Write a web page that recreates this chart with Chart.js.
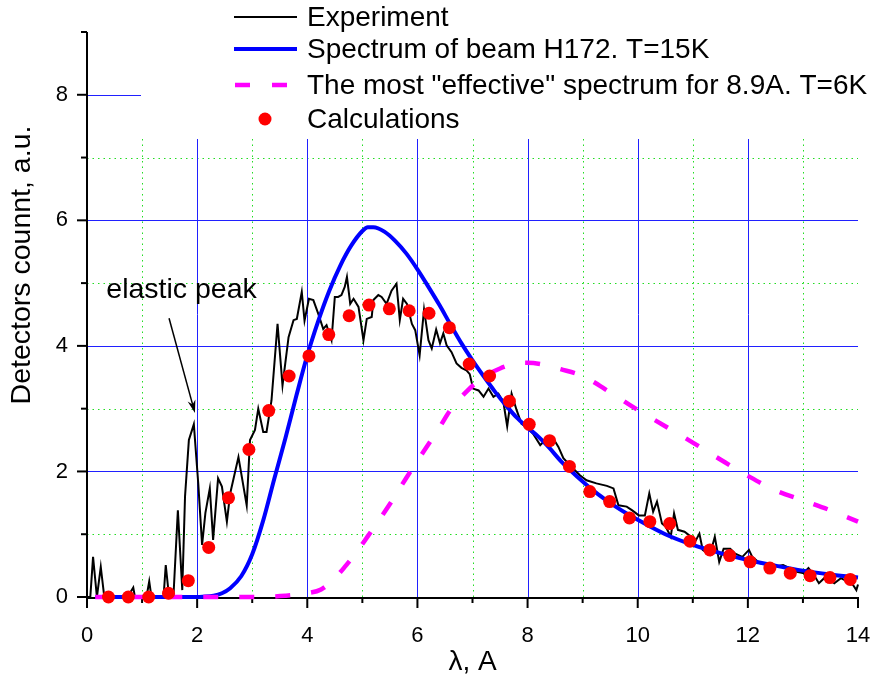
<!DOCTYPE html>
<html>
<head>
<meta charset="utf-8">
<script src="https://cdn.jsdelivr.net/npm/chart.js@4.4.1/dist/chart.umd.min.js"></script>
<style>
  html, body { margin: 0; padding: 0; background: #fff; }
  #wrap { width: 871px; height: 686px; }
</style>
</head>
<body>
<div id="wrap"><canvas id="spectrum" width="871" height="686"></canvas></div>
<script>
// Experiment (noisy detector counts)
const expX = [0, 0.06, 0.11, 0.18, 0.25, 0.31, 0.45, 0.6, 0.75, 0.84, 0.87, 1.0, 1.08, 1.13, 1.17, 1.3, 1.39, 1.43, 1.49, 1.57, 1.65, 1.73, 1.78, 1.85, 1.94, 2.02, 2.09, 2.15, 2.23, 2.29, 2.38, 2.45, 2.54, 2.6, 2.75, 2.9, 2.96, 3.05, 3.11, 3.2, 3.26, 3.35, 3.46, 3.55, 3.66, 3.75, 3.81, 3.9, 3.95, 4.03, 4.11, 4.2, 4.29, 4.35, 4.44, 4.5, 4.56, 4.62, 4.68, 4.72, 4.78, 4.84, 4.93, 5.02, 5.08, 5.17, 5.2, 5.29, 5.35, 5.44, 5.53, 5.62, 5.68, 5.74, 5.81, 5.9, 5.96, 6.04, 6.12, 6.2, 6.26, 6.34, 6.41, 6.47, 6.53, 6.62, 6.71, 6.8, 6.89, 6.95, 7.01, 7.11, 7.2, 7.29, 7.38, 7.47, 7.56, 7.63, 7.71, 7.8, 7.89, 7.98, 8.1, 8.23, 8.32, 8.47, 8.56, 8.65, 8.8, 8.95, 9.07, 9.25, 9.44, 9.56, 9.65, 9.8, 9.9, 10.02, 10.13, 10.21, 10.28, 10.35, 10.44, 10.51, 10.6, 10.66, 10.73, 10.85, 10.97, 11.06, 11.12, 11.18, 11.31, 11.4, 11.48, 11.56, 11.68, 11.77, 11.9, 12.02, 12.08, 12.21, 12.36, 12.52, 12.64, 12.76, 12.89, 13.01, 13.1, 13.2, 13.29, 13.41, 13.57, 13.69, 13.82, 13.91, 13.97, 14.0];
const expY = [0, 0, 0.64, 0, 0.48, 0.03, 0.02, 0, 0.02, 0.15, 0, 0.01, 0, 0.25, 0, 0.01, 0, 0.51, 0, 0.02, 1.38, 0.11, 1.6, 2.5, 2.75, 1.81, 0.83, 1.34, 1.73, 0.91, 1.89, 1.76, 1.2, 1.65, 2.23, 1.46, 2.5, 2.66, 3.0, 2.63, 2.63, 3.13, 4.35, 3.37, 4.14, 4.41, 4.43, 4.86, 4.4, 4.75, 4.73, 4.51, 4.27, 4.33, 4.09, 4.78, 4.78, 4.81, 4.94, 5.1, 4.67, 4.75, 4.62, 4.09, 4.43, 4.46, 4.73, 4.81, 4.78, 4.67, 4.88, 4.99, 4.41, 4.75, 4.67, 4.35, 4.25, 3.85, 4.58, 4.09, 3.96, 4.26, 4.04, 4.2, 4.01, 3.9, 3.72, 3.65, 3.61, 3.55, 3.32, 3.29, 3.19, 3.32, 3.19, 3.24, 3.11, 2.72, 3.24, 2.98, 2.76, 2.71, 2.6, 2.42, 2.5, 2.52, 2.39, 2.21, 2.07, 1.94, 1.86, 1.81, 1.77, 1.73, 1.46, 1.44, 1.38, 1.3, 1.3, 1.65, 1.36, 1.52, 1.17, 1.12, 0.96, 1.33, 1.07, 1.04, 0.96, 0.91, 1.01, 0.75, 0.67, 0.96, 0.56, 0.77, 0.77, 0.69, 0.64, 0.75, 0.64, 0.54, 0.51, 0.49, 0.51, 0.46, 0.4, 0.38, 0.46, 0.35, 0.22, 0.32, 0.22, 0.3, 0.24, 0.19, 0.11, 0.2];

// Spectrum of beam H172, T=15K
const beamX = [0.15, 1.0, 1.8, 2.1, 2.3, 2.45, 2.6, 2.8, 3.0, 3.2, 3.4, 3.6, 3.8, 4.0, 4.2, 4.4, 4.6, 4.8, 5.0, 5.1, 5.2, 5.4, 5.6, 5.8, 6.0, 6.2, 6.4, 6.6, 6.8, 7.0, 7.2, 7.4, 7.6, 7.8, 8.0, 8.2, 8.4, 8.6, 8.8, 9.0, 9.2, 9.4, 9.6, 9.8, 10.0, 10.5, 11.0, 11.5, 12.0, 12.5, 13.0, 13.5, 14.0];
const beamY = [0, 0, 0, 0.005, 0.02, 0.06, 0.14, 0.33, 0.68, 1.22, 1.88, 2.52, 3.2, 3.85, 4.4, 4.88, 5.28, 5.6, 5.83, 5.89, 5.89, 5.82, 5.67, 5.47, 5.22, 4.94, 4.65, 4.34, 4.04, 3.77, 3.52, 3.28, 3.06, 2.86, 2.7, 2.55, 2.37, 2.17, 2.0, 1.84, 1.69, 1.56, 1.44, 1.33, 1.23, 1.0, 0.83, 0.7, 0.59, 0.5, 0.42, 0.36, 0.31];

// The most "effective" spectrum for 8.9A, T=6K
const effX = [0.15, 3.0, 3.6, 4.0, 4.25, 4.5, 4.7, 4.9, 5.1, 5.3, 5.5, 5.8, 6.1, 6.4, 6.6, 6.9, 7.2, 7.5, 7.8, 8.0, 8.3, 8.6, 9.0, 9.5, 10.0, 10.5, 11.0, 11.5, 12.0, 12.5, 13.0, 13.5, 14.0];
const effY = [0, 0, 0.02, 0.06, 0.12, 0.3, 0.5, 0.72, 0.97, 1.22, 1.48, 1.9, 2.3, 2.7, 2.98, 3.28, 3.5, 3.64, 3.72, 3.73, 3.7, 3.63, 3.52, 3.26, 2.98, 2.72, 2.46, 2.19, 1.93, 1.7, 1.54, 1.38, 1.2];

// Calculations
const calcX = [0.39, 0.75, 1.12, 1.48, 1.84, 2.21, 2.57, 2.94, 3.30, 3.67, 4.03, 4.39, 4.76, 5.12, 5.49, 5.85, 6.21, 6.58, 6.94, 7.31, 7.67, 8.03, 8.40, 8.76, 9.13, 9.49, 9.85, 10.22, 10.58, 10.95, 11.31, 11.67, 12.04, 12.40, 12.77, 13.13, 13.49, 13.86];
const calcY = [0, 0, 0, 0.06, 0.26, 0.79, 1.58, 2.35, 2.97, 3.52, 3.84, 4.18, 4.48, 4.65, 4.59, 4.56, 4.52, 4.29, 3.71, 3.52, 3.12, 2.75, 2.49, 2.08, 1.68, 1.52, 1.26, 1.2, 1.17, 0.89, 0.75, 0.66, 0.56, 0.46, 0.38, 0.34, 0.31, 0.28];

const xTicks = [0, 2, 4, 6, 8, 10, 12, 14];
const yTicks = [0, 2, 4, 6, 8];
const legendLabels = [
  'Experiment',
  'Spectrum of beam H172. T=15K',
  'The most "effective" spectrum for 8.9A. T=6K',
  'Calculations'
];

const FONT = '"Liberation Sans", Arial, sans-serif';
const pts = (xs, ys) => xs.map((x, i) => ({ x, y: ys[i] }));

// grid, axes and tick marks in the Origin style
const framePlugin = {
  id: 'frame',
  beforeDatasetsDraw(chart) {
    const { ctx, scales: { x, y } } = chart;
    const x0 = x.getPixelForValue(0), x1 = x.getPixelForValue(14);
    const y0 = y.getPixelForValue(0), y1 = y.getPixelForValue(9);
    ctx.save();
    ctx.lineWidth = 1;
    ctx.strokeStyle = '#22dd22';
    ctx.setLineDash([1.5, 4]);
    for (let v = 1; v <= 13; v += 2) {
      const p = Math.round(x.getPixelForValue(v)) + 0.5;
      ctx.beginPath(); ctx.moveTo(p, y0); ctx.lineTo(p, y1); ctx.stroke();
    }
    for (let v = 1; v <= 7; v += 2) {
      const p = Math.round(y.getPixelForValue(v)) + 0.5;
      ctx.beginPath(); ctx.moveTo(x0, p); ctx.lineTo(x1, p); ctx.stroke();
    }
    ctx.setLineDash([]);
    ctx.strokeStyle = '#2020ff';
    for (let v = 2; v <= 12; v += 2) {
      const p = Math.round(x.getPixelForValue(v)) + 0.5;
      ctx.beginPath(); ctx.moveTo(p, y0); ctx.lineTo(p, y1); ctx.stroke();
    }
    for (let v = 2; v <= 8; v += 2) {
      const p = Math.round(y.getPixelForValue(v)) + 0.5;
      ctx.beginPath(); ctx.moveTo(x0, p); ctx.lineTo(x1, p); ctx.stroke();
    }
    // axes
    ctx.strokeStyle = '#000';
    ctx.lineWidth = 2;
    ctx.beginPath();
    ctx.moveTo(x0, y1); ctx.lineTo(x0, y0 + 1); ctx.lineTo(x1 + 1, y0 + 1);
    ctx.stroke();
    for (let v = 0; v <= 14; v++) {
      const p = x.getPixelForValue(v);
      ctx.beginPath(); ctx.moveTo(p, y0); ctx.lineTo(p, y0 + (v % 2 ? 6 : 11)); ctx.stroke();
    }
    for (let v = 0; v <= 9; v++) {
      const p = y.getPixelForValue(v);
      ctx.beginPath(); ctx.moveTo(x0, p); ctx.lineTo(x0 - (v % 2 ? 6 : 10), p); ctx.stroke();
    }
    ctx.restore();
  }
};

const legendPlugin = {
  id: 'originLegend',
  afterDatasetsDraw(chart) {
    const { ctx } = chart;
    ctx.save();
    ctx.fillStyle = '#fff';
    ctx.fillRect(141, 0, 730, 139);
    const rows = [17, 49, 85, 119];
    // samples
    ctx.lineCap = 'butt';
    ctx.strokeStyle = '#000'; ctx.lineWidth = 2;
    ctx.beginPath(); ctx.moveTo(234, rows[0]); ctx.lineTo(297, rows[0]); ctx.stroke();
    ctx.strokeStyle = '#0000ff'; ctx.lineWidth = 4;
    ctx.beginPath(); ctx.moveTo(234, rows[1]); ctx.lineTo(297, rows[1]); ctx.stroke();
    ctx.strokeStyle = '#ff00ff'; ctx.lineWidth = 4.5;
    ctx.beginPath(); ctx.moveTo(235, rows[2]); ctx.lineTo(250, rows[2]);
    ctx.moveTo(272, rows[2]); ctx.lineTo(287, rows[2]); ctx.stroke();
    ctx.fillStyle = '#ff0000';
    ctx.beginPath(); ctx.arc(265, rows[3], 6.5, 0, Math.PI * 2); ctx.fill();
    // labels
    ctx.fillStyle = '#000';
    ctx.font = '28px ' + FONT;
    ctx.textBaseline = 'middle';
    ctx.textAlign = 'left';
    legendLabels.forEach((t, i) => ctx.fillText(t, 307, rows[i] + 1));
    ctx.restore();
  }
};

const annotationPlugin = {
  id: 'elasticPeak',
  afterDatasetsDraw(chart) {
    const { ctx, scales: { x, y } } = chart;
    ctx.save();
    ctx.fillStyle = '#000';
    ctx.font = '28.5px ' + FONT;
    ctx.textBaseline = 'alphabetic';
    ctx.fillText('elastic peak', x.getPixelForValue(0.35), y.getPixelForValue(4.76));
    const tx = x.getPixelForValue(1.49), ty = y.getPixelForValue(4.44);
    const hx = x.getPixelForValue(1.96), hy = y.getPixelForValue(2.93);
    const ang = Math.atan2(hy - ty, hx - tx);
    ctx.strokeStyle = '#000'; ctx.lineWidth = 1.5;
    ctx.beginPath(); ctx.moveTo(tx, ty);
    ctx.lineTo(hx - 8 * Math.cos(ang), hy - 8 * Math.sin(ang)); ctx.stroke();
    ctx.beginPath();
    ctx.moveTo(hx, hy);
    ctx.lineTo(hx - 13 * Math.cos(ang) + 4 * Math.sin(ang), hy - 13 * Math.sin(ang) - 4 * Math.cos(ang));
    ctx.lineTo(hx - 9 * Math.cos(ang), hy - 9 * Math.sin(ang));
    ctx.lineTo(hx - 13 * Math.cos(ang) - 4 * Math.sin(ang), hy - 13 * Math.sin(ang) + 4 * Math.cos(ang));
    ctx.closePath(); ctx.fill();
    // y axis title
    ctx.translate(22, 265);
    ctx.rotate(-Math.PI / 2);
    ctx.textAlign = 'center';
    ctx.textBaseline = 'middle';
    ctx.font = '28.5px ' + FONT;
    ctx.fillText('Detectors counnt, a.u.', 0, 0);
    ctx.restore();
  }
};

new Chart(document.getElementById('spectrum'), {
  type: 'scatter',
  data: {
    datasets: [
      {
        label: legendLabels[3], data: pts(calcX, calcY),
        pointRadius: 6.5, pointHoverRadius: 6.5,
        pointBackgroundColor: '#ff0000', pointBorderWidth: 0, showLine: false, clip: false
      },
      {
        label: legendLabels[2], data: pts(effX, effY), showLine: true,
        borderColor: '#ff00ff', borderWidth: 4.5, borderDash: [15, 21], pointRadius: 0,
        cubicInterpolationMode: 'monotone', clip: 4
      },
      {
        label: legendLabels[1], data: pts(beamX, beamY), showLine: true,
        borderColor: '#0000ff', borderWidth: 4, pointRadius: 0,
        cubicInterpolationMode: 'monotone', clip: 4
      },
      {
        label: legendLabels[0], data: pts(expX, expY), showLine: true,
        borderColor: '#000', borderWidth: 2, pointRadius: 0, tension: 0, clip: 2
      }
    ]
  },
  options: {
    responsive: false,
    animation: false,
    events: [],
    layout: { padding: { top: 32, right: 13, left: 0, bottom: 0 } },
    plugins: { legend: { display: false }, tooltip: { enabled: false } },
    scales: {
      x: {
        type: 'linear', min: 0, max: 14,
        afterBuildTicks: s => { s.ticks = xTicks.map(v => ({ value: v })); },
        afterFit: s => { s.height = 89; s.paddingLeft = 0; s.paddingRight = 0; },
        grid: { display: false, drawTicks: false },
        border: { display: false },
        ticks: { color: '#000', padding: 26, font: { family: FONT, size: 22 } },
        title: {
          display: true, text: 'λ, A', color: '#000',
          font: { family: FONT, size: 28 }, padding: { top: 0, bottom: 7 }
        }
      },
      y: {
        type: 'linear', min: 0, max: 9,
        afterBuildTicks: s => { s.ticks = yTicks.map(v => ({ value: v })); },
        afterFit: s => { s.width = 87; s.paddingTop = 0; s.paddingBottom = 0; },
        grid: { display: false, drawTicks: false },
        border: { display: false },
        ticks: { color: '#000', padding: 19, font: { family: FONT, size: 22 } }
      }
    }
  },
  plugins: [framePlugin, legendPlugin, annotationPlugin]
});
</script>
</body>
</html>
